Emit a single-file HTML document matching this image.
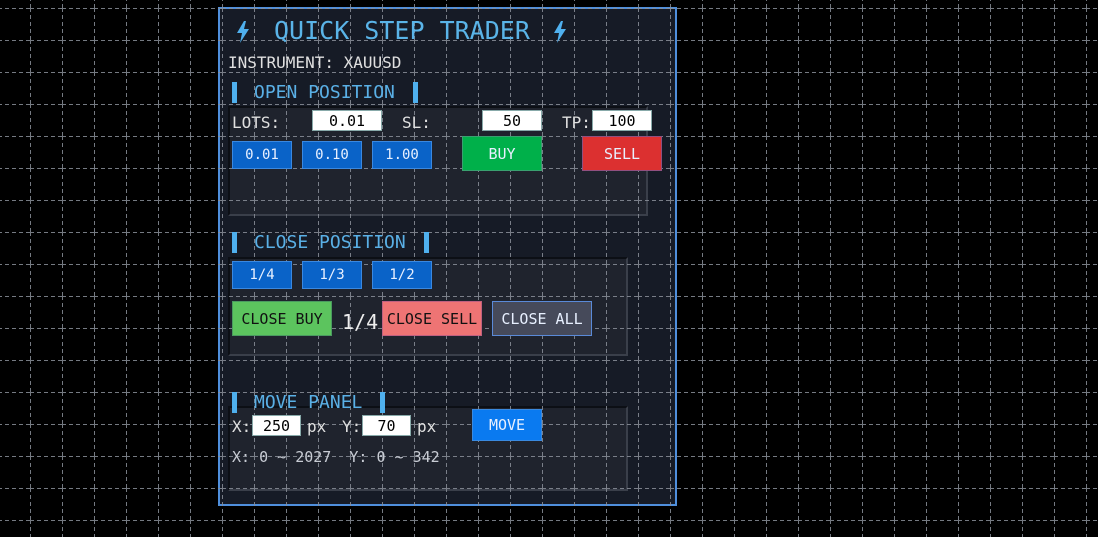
<!DOCTYPE html>
<html><head><meta charset="utf-8"><style>
*{margin:0;padding:0;box-sizing:border-box}
body{width:1098px;height:537px;background:#000;position:relative;overflow:hidden;font-family:"DejaVu Sans Mono","Liberation Mono",monospace}
.a{position:absolute}
#panel{left:218px;top:7px;width:459px;height:499px;background:#161b26;border:2px solid #4f8fdc}
.box{background:#1f232d;border:2px solid #3a3f4a;border-top-color:#0c0f15;border-left-color:#0c0f15}
#grid{left:0;top:0;z-index:2;pointer-events:none}
.t{z-index:3;white-space:pre}
.hdr{color:#5ab0e6;font-size:18px}
.bar{width:5px;height:21px;background:#4fb0ee;z-index:3}
.btn{z-index:3;display:flex;align-items:center;justify-content:center;font-size:14px;color:#e8f0ff}
.blue{background:#0a63c8;border:1px solid #3a88e0}
.inp{z-index:3;background:#fff;border:1px solid #8aa;color:#000;font-size:15px;display:flex;align-items:center;justify-content:center}
.lbl{color:#e0e0e0;font-size:16px}
</style></head><body>
<div id="panel" class="a"></div>
<div class="a box" style="left:228px;top:106px;width:420px;height:110px"></div>
<div class="a box" style="left:228px;top:257px;width:400px;height:99px"></div>
<div class="a box" style="left:228px;top:406px;width:400px;height:85px"></div>
<svg id="grid" class="a" width="1098" height="537">
<defs><pattern id="g" x="30" y="8" width="32" height="32" patternUnits="userSpaceOnUse">
<line x1="0" y1="0.5" x2="32" y2="0.5" stroke="#8a8f99" stroke-dasharray="4 3"/>
<line x1="0.5" y1="0" x2="0.5" y2="32" stroke="#8a8f99" stroke-dasharray="4 3"/>
</pattern></defs>
<rect width="1098" height="537" fill="url(#g)" opacity="0.85"/>
</svg>
<svg class="a" style="left:236px;top:21px;z-index:3" width="14" height="22"><polygon points="8,0 1,12 6,12 4,22 13,8 8,8 10,0" fill="#4fb0ee"/></svg>
<svg class="a" style="left:553px;top:21px;z-index:3" width="14" height="22"><polygon points="8,0 1,12 6,12 4,22 13,8 8,8 10,0" fill="#4fb0ee"/></svg>
<div class="a t" style="left:274px;top:16px;color:#5ab4e8;font-size:25px">QUICK STEP TRADER</div>
<div class="a t lbl" style="left:228px;top:53px">INSTRUMENT: XAUUSD</div>
<div class="a bar" style="left:232px;top:82px"></div>
<div class="a t hdr" style="left:254px;top:82px">OPEN POSITION</div>
<div class="a bar" style="left:413px;top:82px"></div>
<div class="a t lbl" style="left:232px;top:113px">LOTS:</div>
<div class="a inp" style="left:312px;top:110px;width:70px;height:21px">0.01</div>
<div class="a t lbl" style="left:402px;top:113px">SL:</div>
<div class="a inp" style="left:482px;top:110px;width:60px;height:21px">50</div>
<div class="a t lbl" style="left:562px;top:113px">TP:</div>
<div class="a inp" style="left:592px;top:110px;width:60px;height:21px">100</div>
<div class="a btn blue" style="left:232px;top:141px;width:60px;height:28px">0.01</div>
<div class="a btn blue" style="left:302px;top:141px;width:60px;height:28px">0.10</div>
<div class="a btn blue" style="left:372px;top:141px;width:60px;height:28px">1.00</div>
<div class="a btn" style="left:462px;top:136px;width:80px;height:35px;background:#00b04a;border:1px solid #3aa070;font-size:15px">BUY</div>
<div class="a btn" style="left:582px;top:136px;width:80px;height:35px;background:#dc3030;border:1px solid #905080;font-size:15px">SELL</div>
<div class="a bar" style="left:232px;top:232px"></div>
<div class="a t hdr" style="left:254px;top:232px">CLOSE POSITION</div>
<div class="a bar" style="left:424px;top:232px"></div>
<div class="a btn blue" style="left:232px;top:261px;width:60px;height:28px">1/4</div>
<div class="a btn blue" style="left:302px;top:261px;width:60px;height:28px">1/3</div>
<div class="a btn blue" style="left:372px;top:261px;width:60px;height:28px">1/2</div>
<div class="a btn" style="left:232px;top:301px;width:100px;height:35px;background:#5cc45e;border:1px solid #4a9a60;color:#111;font-size:15px">CLOSE BUY</div>
<div class="a t" style="left:342px;top:310px;color:#eee;font-size:20px">1/4</div>
<div class="a btn" style="left:382px;top:301px;width:100px;height:35px;background:#ee7474;border:1px solid #c06080;color:#111;font-size:15px">CLOSE SELL</div>
<div class="a btn" style="left:492px;top:301px;width:100px;height:35px;background:#464a5a;border:1px solid #5a8ad8;font-size:15px">CLOSE ALL</div>
<div class="a bar" style="left:232px;top:392px"></div>
<div class="a t hdr" style="left:254px;top:392px">MOVE PANEL</div>
<div class="a bar" style="left:380px;top:392px"></div>
<div class="a t lbl" style="left:232px;top:417px">X:</div>
<div class="a inp" style="left:252px;top:415px;width:49px;height:21px">250</div>
<div class="a t lbl" style="left:307px;top:417px">px</div>
<div class="a t lbl" style="left:342px;top:417px">Y:</div>
<div class="a inp" style="left:362px;top:415px;width:49px;height:21px">70</div>
<div class="a t lbl" style="left:417px;top:417px">px</div>
<div class="a btn" style="left:472px;top:409px;width:70px;height:32px;background:#0a7af0;border:1px solid #3a8ae0;font-size:15px">MOVE</div>
<div class="a t" style="left:232px;top:448px;color:#c8ccd4;font-size:15px">X: 0 ~ 2027  Y: 0 ~ 342</div>
</body></html>
